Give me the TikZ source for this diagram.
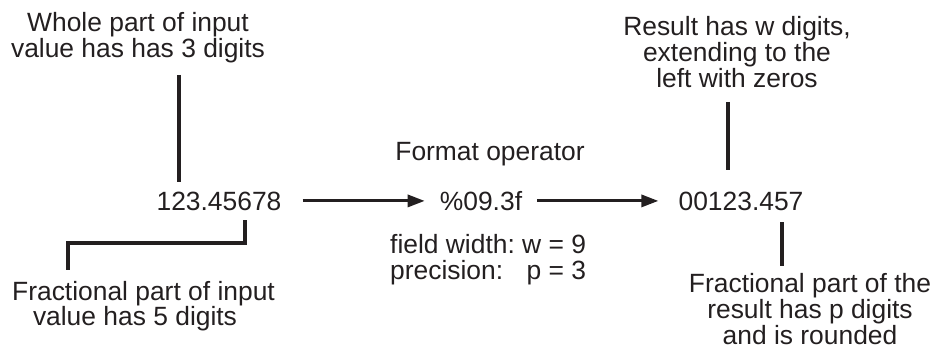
\documentclass[tikz,border=0pt]{standalone}
\usepackage{fontspec}
\setmainfont{Liberation Sans}
\usetikzlibrary{arrows.meta}
\definecolor{ink}{HTML}{231F20}
\begin{document}
\begin{tikzpicture}[x=1pt,y=-1pt,
  txt/.style={font=\fontsize{26.4}{26}\selectfont, text=ink, inner sep=0pt, align=center},
  conn/.style={draw=ink, line width=3.1pt},
  arr/.style={conn, -{Triangle[length=17pt,width=12pt]}}]
\useasboundingbox (0,0) rectangle (941,350);
% texts (anchor base = baseline of the last line)
\node[txt, anchor=base] (whole) at (138,57.3) {Whole part of input\\value has has 3 digits};
\node[txt, anchor=base] (in) at (219,210) {123.45678};
\node[txt, anchor=base] (fracA) at (143.5,300) {Fractional part of input};
\node[txt, anchor=base] (fracB) at (135,325.5) {value has 5 digits};
\node[txt, anchor=base] (op) at (490,160) {Format operator};
\node[txt, anchor=base] (fmt) at (481,210) {\%09.3f};
\node[txt, anchor=base west] (par) at (390,253) {\begin{tabular}[t]{@{}l@{\ }r@{}}field width: & w = 9\\ precision: & p = 3\end{tabular}};
\node[txt, anchor=base] (res) at (741,210) {00123.457};
\node[txt, anchor=base] (resw) at (737,87.5) {Result has w digits,\\extending to the\\left with zeros};
\node[txt, anchor=base] (resp) at (810,344) {Fractional part of the\\result has p digits\\and is rounded};
% connector end points
\coordinate (w1) at (179,75);
\coordinate (w2) at (179,182);
\coordinate (f1) at (245,220);
\coordinate (f2) at (245,243);
\coordinate (f3) at (68,243);
\coordinate (f4) at (68,270);
\coordinate (r1) at (728,102);
\coordinate (r2) at (728,170);
\coordinate (p1) at (782,222);
\coordinate (p2) at (782,266);
% connectors
\draw[conn] (w1) -- (w2);
\draw[conn] (f1) -- (f2) -- (f3) -- (f4);
\draw[conn] (r1) -- (r2);
\draw[conn] (p1) -- (p2);
\draw[arr] ([xshift=21pt]in.east) -- ([xshift=-15pt]in.east -| fmt.west);
\draw[arr] ([xshift=15pt]in.east -| fmt.east) -- ([xshift=-20pt]in.east -| res.west);
\end{tikzpicture}
\end{document}
